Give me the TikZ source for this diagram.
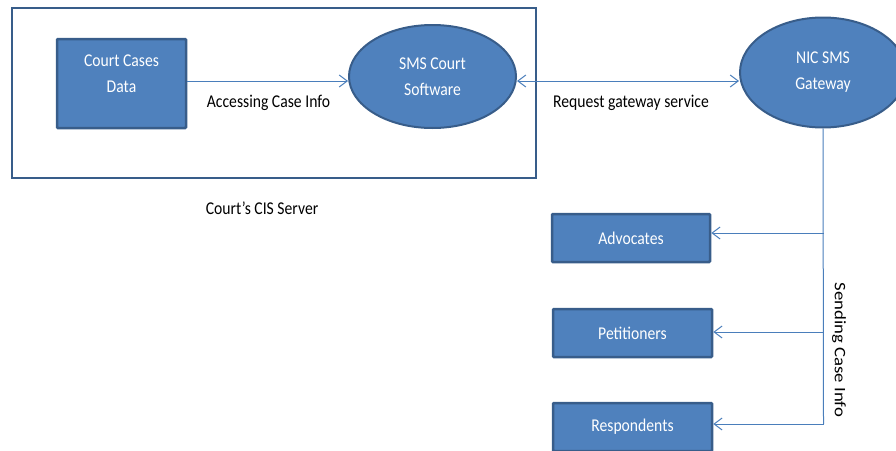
\documentclass[tikz,border=0pt]{standalone}
\usepackage{fontspec}
\setmainfont{Carlito}[FakeStretch=0.87]
\newfontfamily\widefont{Carlito}[FakeStretch=1.17]
\usetikzlibrary{arrows.meta,shapes.geometric}
\definecolor{fillblue}{HTML}{4F81BD}
\definecolor{edgeblue}{HTML}{385D8A}
\definecolor{lineblue}{HTML}{4A7EBB}
\tikzset{
  box/.style={draw=edgeblue, line width=2.5pt, fill=fillblue, inner sep=0pt, rounded corners=1pt},
  oval/.style={ellipse, draw=edgeblue, line width=2pt, fill=fillblue, text=white, font=\fontsize{18}{26}\selectfont, align=center, inner sep=0pt},
  whitetext/.style={text=white, font=\fontsize{18}{26}\selectfont, align=center, inner sep=0pt},
  tip/.tip={Straight Barb[length=8pt,width=12pt,line width=1pt]},
  conn/.style={draw=lineblue, line width=1pt, -tip},
  lbl/.style={font=\fontsize{18}{22}\selectfont, text=black, inner sep=0pt}
}
\begin{document}
\begin{tikzpicture}[x=1pt,y=-1pt]
\useasboundingbox (0,0) rectangle (896,450);
\begin{scope}
\clip (0,0) rectangle (896,450);
% outer server box
\node[draw=edgeblue, line width=2.5pt, minimum width=524pt, minimum height=170pt, inner sep=0pt] (server) at (274,93) {};
\node[box, minimum width=129pt, minimum height=89pt] (data) at (121.5,83.5) {};
\node[whitetext] (datatext) at (121.5,74) {Court Cases\\Data};
\node[oval, minimum width=167pt, minimum height=103pt] (sms) at (432.5,76.5) {SMS Court\\Software};
\node[oval, minimum width=166pt, minimum height=110pt] (nic) at (823,72.5) {NIC SMS\\Gateway};
\node[box, whitetext, minimum width=158pt, minimum height=48pt] (adv) at (631,238) {Advocates};
\node[box, whitetext, minimum width=159pt, minimum height=48pt] (pet) at (632.5,333) {Petitioners};
\node[box, whitetext, minimum width=159pt, minimum height=48pt] (res) at (632.5,427) {Respondents};

\draw[conn] (data.east |- 0,81) -- (sms.west |- 0,81);
\draw[conn, tip-tip] (sms.east |- 0,81) -- (nic.west |- 0,81);

\coordinate (jadv) at (823.5,233);
\coordinate (jpet) at (823.5,332);
\coordinate (jres) at (823.5,424);
\draw[draw=lineblue, line width=1pt] (nic.south) -- (jres);
\draw[conn] (jadv) -- (adv.east |- jadv);
\draw[conn] (jpet) -- (pet.east |- jpet);
\draw[conn] (jres) -- (res.east |- jres);
\end{scope}

\node[lbl] (l1) at (268.5,103) {Accessing Case Info};
\node[lbl] (l2) at (631,103) {Request gateway service};
\node[lbl] (l3) at (262,208) {Court’s CIS Server};
\node[lbl, font=\widefont\fontsize{16}{20}\selectfont, rotate=-90] (l4) at (839,350) {Sending Case Info};
\end{tikzpicture}
\end{document}
